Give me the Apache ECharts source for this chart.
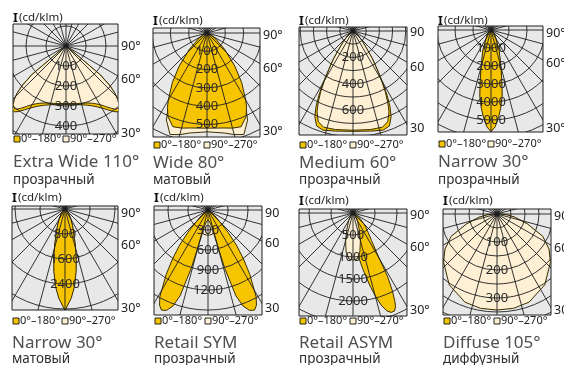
<!DOCTYPE html>
<html><head><meta charset="utf-8">
<script src="https://cdn.jsdelivr.net/npm/echarts@6/dist/echarts.min.js"></script>
<style>html,body{margin:0;padding:0;background:#fff}#c{width:564px;height:365px}</style>
</head><body><div id="c"></div>
<script>
// ---------- text ----------
const panelNames = ['Extra Wide 110°','Wide 80°','Medium 60°','Narrow 30°','Narrow 30°','Retail SYM','Retail ASYM','Diffuse 105°'];
const panelFinish = ['прозрачный','матовый','прозрачный','прозрачный','матовый','прозрачный','прозрачный','диффузный'];
const unitLabel = '(cd/klm)';
const legendLabels = ['0°–180°','90°–270°'];
const angleTickLabels = [['90°','60°','30°'],['90°','60°','30°'],['90','60','30'],['90°','60°','30°'],['90°','60°','30°'],['90','60','30'],['90°','60°','30°'],['90','60','30']];

// ---------- data: angle from nadir (deg) / intensity (cd/klm) ----------
// Extra Wide 110°
const extraWideAngles = [0,10,20,25,30,33,36,38,40,42,44,46,48,50,52,54,60,70,90];
const extraWideC0  = [292,297,315,332,358,380,405,418,415,398,372,340,295,225,30,18,10,4,0];
const extraWideC90 = [288,292,303,316,338,360,385,402,405,395,372,340,292,220,30,18,10,4,0];
const extraWideRings = [100,200,300,400];
// Wide 80°
const wideAngles = [0,10,15,20,25,28,30,35,40,47,55,65,75,90];
const wideC0  = [520,527,538,545,505,460,423,330,237,133,60,25,8,0];
const wideC90 = [540,555,575,590,525,450,410,315,225,125,55,22,7,0];
const wideRings = [100,200,300,400,500];
// Medium 60°
const mediumAngles = [0,10,17,21,24,26,28,30,32,35,37,42,50,60,75,90];
const mediumC0  = [760,770,785,770,710,640,550,450,355,260,192,110,50,20,5,0];
const mediumC90 = [752,758,762,735,670,600,520,430,345,255,190,110,50,20,5,0];
const mediumRings = [200,400,600];
// Narrow 30° clear
const narrowClearAngles = [0,2.5,5,7,9.5,12,15,18,22,27,35,45,60,90];
const narrowClearC0  = [5650,5380,4840,4400,3760,2900,2120,1600,1200,650,400,180,50,0];
const narrowClearC90 = [5600,5300,4750,4300,3650,2800,2050,1550,1150,620,380,170,45,0];
const narrowClearRings = [1000,2000,3000,4000,5000];
// Narrow 30° matte
const narrowMatteAngles = [0,4,7,10,13,16,19,24,30,40,55,90];
const narrowMatteC0  = [3250,2860,2500,2040,1600,1200,880,600,380,180,60,0];
const narrowMatteC90 = [3200,2820,2460,2000,1570,1170,860,580,370,170,55,0];
const narrowMatteRings = [800,1600,2400];
// Retail SYM
const retailSymAngles = [0,8,12,14,16,18,20,22.5,25,27,29,33,36,39,42,45,50,60,75,90];
const retailSymC0 = [150,180,250,400,900,1350,1530,1630,1655,1600,1490,1150,900,676,450,250,130,50,15,0];
const retailSymC90Angles = [0,10,20,30,45,60,90];
const retailSymC90 = [380,370,300,200,80,25,0];
const retailSymRings = [300,600,900,1200];
// Retail ASYM (C0-C180 plane is asymmetric: negative = left side)
const retailAsymC0Angles = [-90,-60,-30,-15,-8,-4,0,3,6,8,10,13,15,17,19,21,23,24.5,25.5,27,28.5,31,34,38,44,50,60,75,90];
const retailAsymC0 = [0,10,25,40,60,120,350,650,900,1080,1300,1680,1950,2190,2350,2420,2420,2330,2200,1950,1650,1030,750,560,380,230,100,30,0];
const retailAsymC90Angles = [0,5,10,15,20,30,45,60,90];
const retailAsymC90 = [1070,1050,900,650,420,200,70,20,0];
const retailAsymRings = [500,1000,1500,2000];
// Diffuse 105°
const diffuseAngles = [0,10,20,34,48,56,64,72,80,85,88,90];
const diffuseC0  = [340,339,332,302,254,222,180,112,62,35,14,0];
const diffuseC90 = [343,342,335,305,257,224,182,114,64,36,15,0];
const diffuseRings = [100,200,300];

// ---------- layout / style (pixels) ----------
const layout = [
  {box:[13,24,118,134],  c:[66,46],   s:0.2,     step:100,  tag:[13,18],  deg:[121,46,79,133],  legY:139, nameY:162, subY:180},
  {box:[153,28,260,137], c:[207,33],  s:0.183,   step:100,  tag:[153,21], deg:[263,35,68,131],   legY:145, nameY:163, subY:180},
  {box:[299,27,407,135], c:[353,31],  s:0.132,   step:100,  tag:[299,21], deg:[410,32,67,128],   legY:145, nameY:163, subY:180},
  {box:[438,26,543,132], c:[491,30],  s:0.018,   step:1000, tag:[438,21], deg:[546,33,63,128],   legY:144, nameY:162, subY:180},
  {box:[12,206,118,310], c:[65,209],  s:0.03125, step:800,  tag:[12,198], deg:[121,213,245,308], legY:321, nameY:343, subY:359},
  {box:[154,206,262,315],c:[208,210], s:0.0667,  step:300,  tag:[154,198],deg:[265,213,243,308], legY:321, nameY:343, subY:359},
  {box:[299,209,407,316],c:[353,213], s:0.044,   step:500,  tag:[299,201],deg:[410,215,247,310], legY:321, nameY:343, subY:359},
  {box:[443,209,551,315],c:[497,214], s:0.28,    step:50,   tag:[443,201],deg:[554,216,248,310], legY:321, nameY:343, subY:359}
];

const panels = [
  {c0:[extraWideAngles,extraWideC0,true], c90:[extraWideAngles,extraWideC90,true], rings:extraWideRings, top:'c90'},
  {c0:[wideAngles,wideC0,true], c90:[wideAngles,wideC90,true], rings:wideRings, top:'c0'},
  {c0:[mediumAngles,mediumC0,true], c90:[mediumAngles,mediumC90,true], rings:mediumRings, top:'c90'},
  {c0:[narrowClearAngles,narrowClearC0,true], c90:[narrowClearAngles,narrowClearC90,true], rings:narrowClearRings, top:'c0'},
  {c0:[narrowMatteAngles,narrowMatteC0,true], c90:[narrowMatteAngles,narrowMatteC90,true], rings:narrowMatteRings, top:'c0'},
  {c0:[retailSymAngles,retailSymC0,true], c90:[retailSymC90Angles,retailSymC90,true], rings:retailSymRings, top:'c0'},
  {c0:[retailAsymC0Angles,retailAsymC0,false], c90:[retailAsymC90Angles,retailAsymC90,true], rings:retailAsymRings, top:'c90'},
  {c0:[diffuseAngles,diffuseC0,true], c90:[diffuseAngles,diffuseC90,true], rings:diffuseRings, top:'c90'}
];

const YELLOW = '#f7c400', CREAM = '#fdf0d4', BG = '#e8e8e8', LINE = '#1e1e1e', OUTLINE = '#3b3000';
const FONT = '"Noto Sans", "DejaVu Sans", sans-serif';

function toXY(angles, vals, sym) {
  const pts = [];
  const rad = Math.PI / 180;
  if (sym) {
    for (let i = angles.length - 1; i >= 0; i--) pts.push([-vals[i] * Math.sin(angles[i] * rad), vals[i] * Math.cos(angles[i] * rad)]);
    for (let i = 0; i < angles.length; i++) { if (i === 0 && angles[0] === 0) continue; pts.push([vals[i] * Math.sin(angles[i] * rad), vals[i] * Math.cos(angles[i] * rad)]); }
  } else {
    for (let i = 0; i < angles.length; i++) pts.push([vals[i] * Math.sin(angles[i] * rad), vals[i] * Math.cos(angles[i] * rad)]);
  }
  return pts;
}

const grids = [], xAxes = [], yAxes = [], series = [], graphics = [];
layout.forEach((L, p) => {
  const [x0, y0, x1, y1] = L.box, [cx, cy] = L.c, s = L.s;
  grids.push({left: x0, top: y0, width: x1 - x0, height: y1 - y0, show: true, backgroundColor: BG, borderColor: LINE, borderWidth: 1, containLabel: false});
  xAxes.push({type: 'value', gridIndex: p, min: (x0 - cx) / s, max: (x1 - cx) / s, show: false});
  yAxes.push({type: 'value', gridIndex: p, inverse: true, min: (y0 - cy) / s, max: (y1 - cy) / s, show: false});
  const P = panels[p];
  const curves = {
    c0: {pts: toXY(P.c0[0], P.c0[1], P.c0[2]), fill: YELLOW},
    c90: {pts: toXY(P.c90[0], P.c90[1], P.c90[2]), fill: CREAM}
  };
  const order = P.top === 'c0' ? ['c90', 'c0'] : ['c0', 'c90'];
  order.forEach(k => {
    const cv = curves[k];
    series.push({type: 'custom', xAxisIndex: p, yAxisIndex: p, clip: true, silent: true, data: [[0, 0]],
      renderItem: (params, api) => ({type: 'polygon', shape: {points: cv.pts.map(q => api.coord(q))},
        style: {fill: cv.fill, stroke: OUTLINE, lineWidth: 1}})});
  });
  // polar grid
  const maxR = Math.hypot(Math.max(cx - x0, x1 - cx), Math.max(cy - y0, y1 - cy)) / s;
  series.push({type: 'custom', xAxisIndex: p, yAxisIndex: p, clip: true, silent: true, data: [[0, 0]],
    renderItem: (params, api) => {
      const o = api.coord([0, 0]);
      const ch = [];
      for (let r = L.step; r <= maxR + L.step; r += L.step) {
        ch.push({type: 'circle', shape: {cx: o[0], cy: o[1], r: api.size([r, 0])[0]}, style: {fill: null, stroke: LINE, lineWidth: 0.9}});
      }
      for (let a = 0; a < 360; a += 15) {
        const e = api.coord([maxR * 2 * Math.sin(a * Math.PI / 180), maxR * 2 * Math.cos(a * Math.PI / 180)]);
        ch.push({type: 'line', shape: {x1: o[0], y1: o[1], x2: e[0], y2: e[1]}, style: {stroke: LINE, lineWidth: 0.9}});
      }
      return {type: 'group', children: ch};
    }});
  // ring labels
  series.push({type: 'custom', xAxisIndex: p, yAxisIndex: p, clip: false, silent: true, data: P.rings.map(v => [0, v]),
    renderItem: (params, api) => {
      const pt = api.coord([api.value(0), api.value(1)]);
      return {type: 'text', x: pt[0], y: pt[1], style: {text: String(api.value(1)), fill: '#2a2a2a', font: '13px ' + FONT, align: 'center', verticalAlign: 'middle', textAlign: 'center', textVerticalAlign: 'middle'}};
    }});
  // texts
  const T = (x, y, text, font, fill) => ({type: 'text', x: x, y: y, silent: true, style: {text: text, font: font, fill: fill || '#222', verticalAlign: 'middle', textVerticalAlign: 'middle'}});
  graphics.push(T(L.tag[0], L.tag[1], 'I', 'bold 12.5px ' + FONT, '#111'));
  graphics.push(T(L.tag[0] + 6, L.tag[1], unitLabel, '11.5px ' + FONT, '#222'));
  const d = angleTickLabels[p];
  graphics.push(T(L.deg[0], L.deg[1], d[0], '12.5px ' + FONT, '#222'));
  graphics.push(T(L.deg[0], L.deg[2], d[1], '12.5px ' + FONT, '#222'));
  graphics.push(T(L.deg[0], L.deg[3], d[2], '12.5px ' + FONT, '#222'));
  graphics.push({type: 'rect', silent: true, shape: {x: x0 + 1, y: L.legY - 3, width: 6, height: 6}, style: {fill: YELLOW, stroke: '#222', lineWidth: 1}});
  graphics.push(T(x0 + 8, L.legY, legendLabels[0], '11px ' + FONT, '#222'));
  graphics.push({type: 'rect', silent: true, shape: {x: cx - 3, y: L.legY - 3, width: 6, height: 6}, style: {fill: CREAM, stroke: '#222', lineWidth: 1}});
  graphics.push(T(cx + 4, L.legY, legendLabels[1], '11px ' + FONT, '#222'));
  graphics.push(T(x0, L.nameY, panelNames[p], '17px ' + FONT, '#505050'));
  graphics.push(T(x0, L.subY, panelFinish[p], '13.5px ' + FONT, '#2f2f2f'));
});

const chart = echarts.init(document.getElementById('c'), null, {renderer: 'canvas'});
chart.setOption({animation: false, backgroundColor: '#fff', grid: grids, xAxis: xAxes, yAxis: yAxes, series: series, graphic: graphics});
</script>
</body></html>
